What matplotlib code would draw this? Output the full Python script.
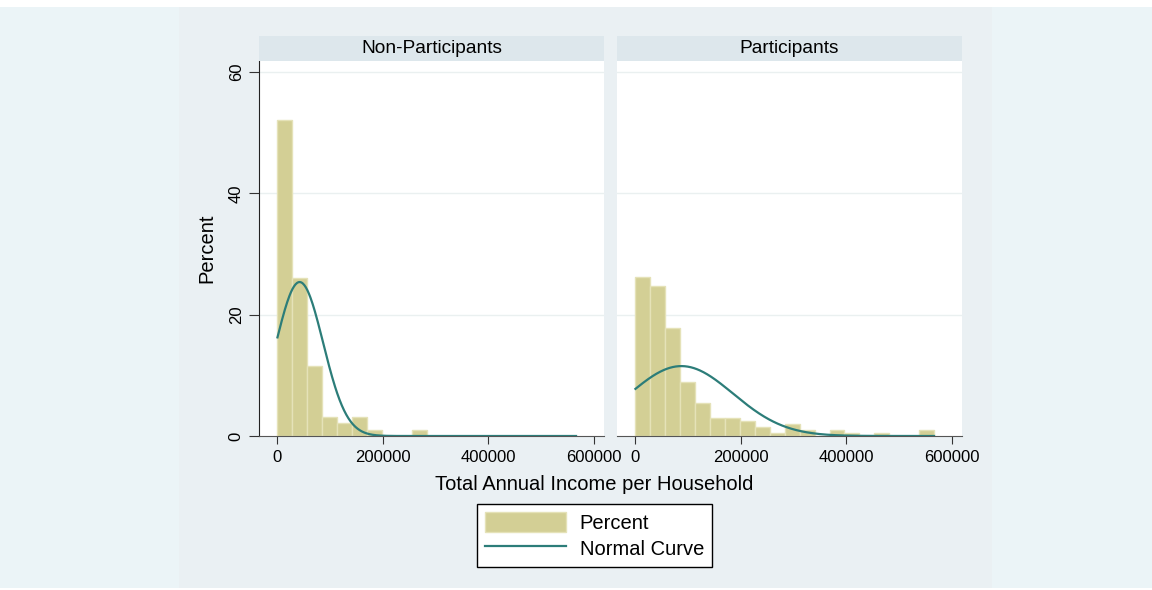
import numpy as np
import matplotlib.pyplot as plt
from matplotlib.patches import Patch, Rectangle
from matplotlib.lines import Line2D

plt.rcParams['font.family'] = ['Liberation Sans', 'DejaVu Sans']

# histogram: 20 bins of equal width starting at 0 (percent per bin)
bin_width = 28300
n_bins = 20
non_participants = [52.1, 26.0, 11.5, 3.1, 2.1, 3.1, 1.0, 0, 0, 1.0,
                    0, 0, 0, 0, 0, 0, 0, 0, 0, 0]
participants = [26.2, 24.8, 17.8, 8.9, 5.4, 3.0, 3.0, 2.5, 1.5, 0.5,
                2.0, 1.0, 0, 1.0, 0.5, 0, 0.5, 0, 0, 1.0]

# normal curve parameters (mean, sd) per group
non_part_mean, non_part_sd = 42000, 44500
part_mean, part_sd = 87000, 98000

panel_titles = ['Non-Participants', 'Participants']
x_ticks = [0, 200000, 400000, 600000]
y_ticks = [0, 20, 40, 60]

bar_color = '#d3cf95'
bar_edge = '#e5e2b8'
curve_color = '#2c7d79'
strip_color = '#dde7ec'

W, H = 1152, 590
fig = plt.figure(figsize=(W / 100, H / 100), dpi=100)
fig.patch.set_facecolor('white')
fig.patches.append(Rectangle((0, 2 / H), 1, 581 / H, transform=fig.transFigure,
                             facecolor='#ebf4f7', edgecolor='none', zorder=-3))
fig.patches.append(Rectangle((179 / W, 2 / H), 813 / W, 581 / H, transform=fig.transFigure,
                             facecolor='#eaf0f3', edgecolor='none', zorder=-2))


def px_axes(x0, y0, x1, y1):
    return fig.add_axes([x0 / W, (H - y1) / H, (x1 - x0) / W, (y1 - y0) / H])


edges = np.arange(n_bins + 1) * bin_width
xs = np.linspace(0, edges[-1], 400)
groups = [(non_participants, non_part_mean, non_part_sd),
          (participants, part_mean, part_sd)]
panels = [(259, 604), (617, 962)]

for i, ((x0, x1), (vals, mu, sd)) in enumerate(zip(panels, groups)):
    ax = px_axes(x0, 61, x1, 436)
    ax.set_facecolor('white')
    ax.bar(edges[:-1], vals, width=bin_width, align='edge',
           color=bar_color, edgecolor=bar_edge, linewidth=1, zorder=2)
    curve = 100 * bin_width * np.exp(-0.5 * ((xs - mu) / sd) ** 2) / (sd * np.sqrt(2 * np.pi))
    ax.plot(xs, curve, color=curve_color, linewidth=1.6, zorder=3)
    ax.set_xlim(-35000, 619000)
    ax.set_ylim(0, 61.8)
    ax.set_xticks(x_ticks)
    ax.set_xticklabels([str(t) for t in x_ticks], fontsize=12)
    ax.set_yticks(y_ticks)
    for y in y_ticks[1:]:
        ax.axhline(y, color='#eaf0f0', linewidth=1, zorder=1)
    for s in ['top', 'right']:
        ax.spines[s].set_visible(False)
    ax.spines['bottom'].set_color('#555555')
    ax.tick_params(axis='x', length=6, color='#333333', pad=4)
    if i == 0:
        ax.set_yticklabels([str(t) for t in y_ticks], fontsize=12, rotation=90, va='center')
        ax.tick_params(axis='y', length=7, color='#333333', pad=4)
        ax.spines['left'].set_color('#222222')
        ax.set_ylabel('Percent', fontsize=14.5, labelpad=9)
    else:
        ax.spines['left'].set_visible(False)
        ax.tick_params(axis='y', length=0, labelleft=False)

    strip = px_axes(x0, 36, x1, 61)
    strip.set_facecolor(strip_color)
    strip.set_xticks([])
    strip.set_yticks([])
    for s in strip.spines.values():
        s.set_visible(False)
    strip.text(0.5, 0.5, panel_titles[i], ha='center', va='center', fontsize=13.8,
               transform=strip.transAxes)

fig.text(594.5 / W, 1 - 484 / H, 'Total Annual Income per Household',
         ha='center', va='center', fontsize=14.5)

handles = [Patch(facecolor=bar_color, edgecolor=bar_edge),
           Line2D([], [], color=curve_color, linewidth=1.6)]
leg = fig.legend(handles, ['Percent', 'Normal Curve'], loc='center',
                 bbox_to_anchor=(594.5 / W, 1 - 535.5 / H), fontsize=14.5,
                 frameon=True, fancybox=False, edgecolor='black', framealpha=1,
                 handlelength=4.0, handleheight=1.1, handletextpad=0.7,
                 labelspacing=0.25, borderpad=0.4)
leg.get_frame().set_linewidth(1)

fig.savefig('out.png', dpi=100)
